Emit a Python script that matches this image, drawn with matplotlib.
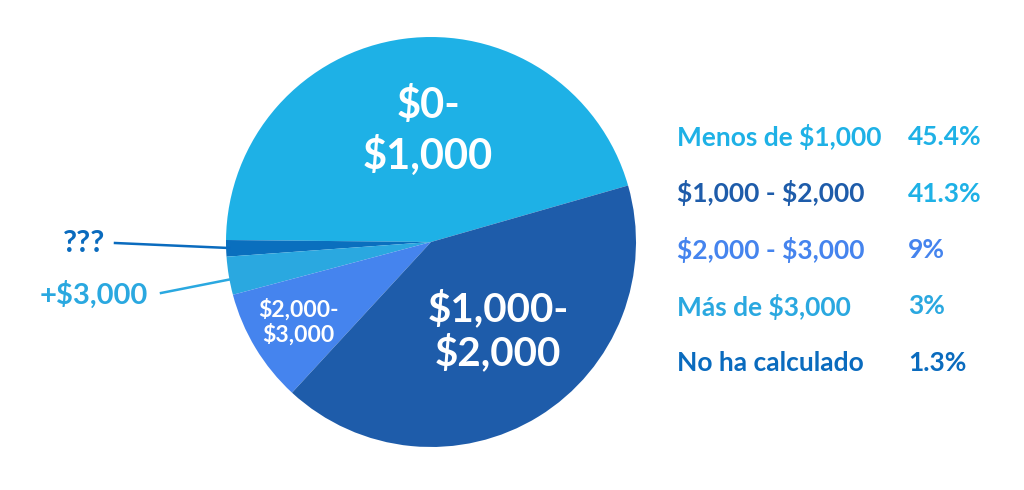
import matplotlib.pyplot as plt

plt.rcParams['font.family'] = ['Lato', 'DejaVu Sans']

# data
categories = ['Menos de $1,000', '$1,000 - $2,000', '$2,000 - $3,000', 'Más de $3,000', 'No ha calculado']
values = [45.4, 41.3, 9, 3, 1.3]
pct_labels = ['45.4%', '41.3%', '9%', '3%', '1.3%']
slice_labels = ['$0-\n$1,000', '$1,000-\n$2,000', '$2,000-\n$3,000', '', '']
# pie goes counterclockwise: light, then ???, +3000, 2000-3000, 1000-2000
order = [0, 4, 3, 2, 1]

colors = ['#1EB1E6', '#1E5CAA', '#4584EE', '#2AA8E0', '#0A6FBE']
label_colors = ['#1EB1E6', '#1E5CAA', '#4584EE', '#2AA8E0', '#0A6BBE']
pct_colors = ['#1EB1E6', '#1EB1E6', '#4584EE', '#2AA8E0', '#0A6BBE']

W, H = 1024, 490
fig = plt.figure(figsize=(W / 100, H / 100), dpi=100)
ax = fig.add_axes([0, 0, 1, 1])

cx, cy, r = 431, H - 242, 205
ax.pie([values[i] for i in order], colors=[colors[i] for i in order],
       startangle=16, counterclock=True, center=(cx, cy), radius=r,
       wedgeprops=dict(linewidth=0))
ax.set_xlim(0, W)
ax.set_ylim(0, H)
ax.set_aspect('equal')
ax.axis('off')

txt = dict(fontweight='bold', parse_math=False)

# labels inside slices
ax.text(428, H - 131, slice_labels[0], color='white', fontsize=30, ha='center',
        va='center', linespacing=1.3, **txt)
ax.text(498, H - 331, slice_labels[1], color='white', fontsize=29, ha='center',
        va='center', linespacing=1.15, **txt)
ax.text(298, H - 322, slice_labels[2], color='white', fontsize=16.5, ha='center',
        va='center', linespacing=1.1, **txt)

# outside labels with leader lines
ax.text(84, H - 243, '???', color='#0A6BBE', fontsize=22, ha='center',
        va='center', **txt)
ax.plot([115, 229], [H - 243, H - 248], color='#0A6BBE', lw=1.8)
ax.text(94, H - 295, '+$3,000', color='#2AA8E0', fontsize=21, ha='center',
        va='center', **txt)
ax.plot([161, 232], [H - 293, H - 279], color='#2AA8E0', lw=1.8)

# legend on the right
y0, dy = 137, 56.5
for i, cat in enumerate(categories):
    y = H - (y0 + i * dy)
    ax.text(677, y, cat, color=label_colors[i], fontsize=19, ha='left',
            va='center', **txt)
    ax.text(908, y, pct_labels[i], color=pct_colors[i], fontsize=19, ha='left',
            va='center', **txt)

plt.savefig('out.png', dpi=100)
plt.close()
